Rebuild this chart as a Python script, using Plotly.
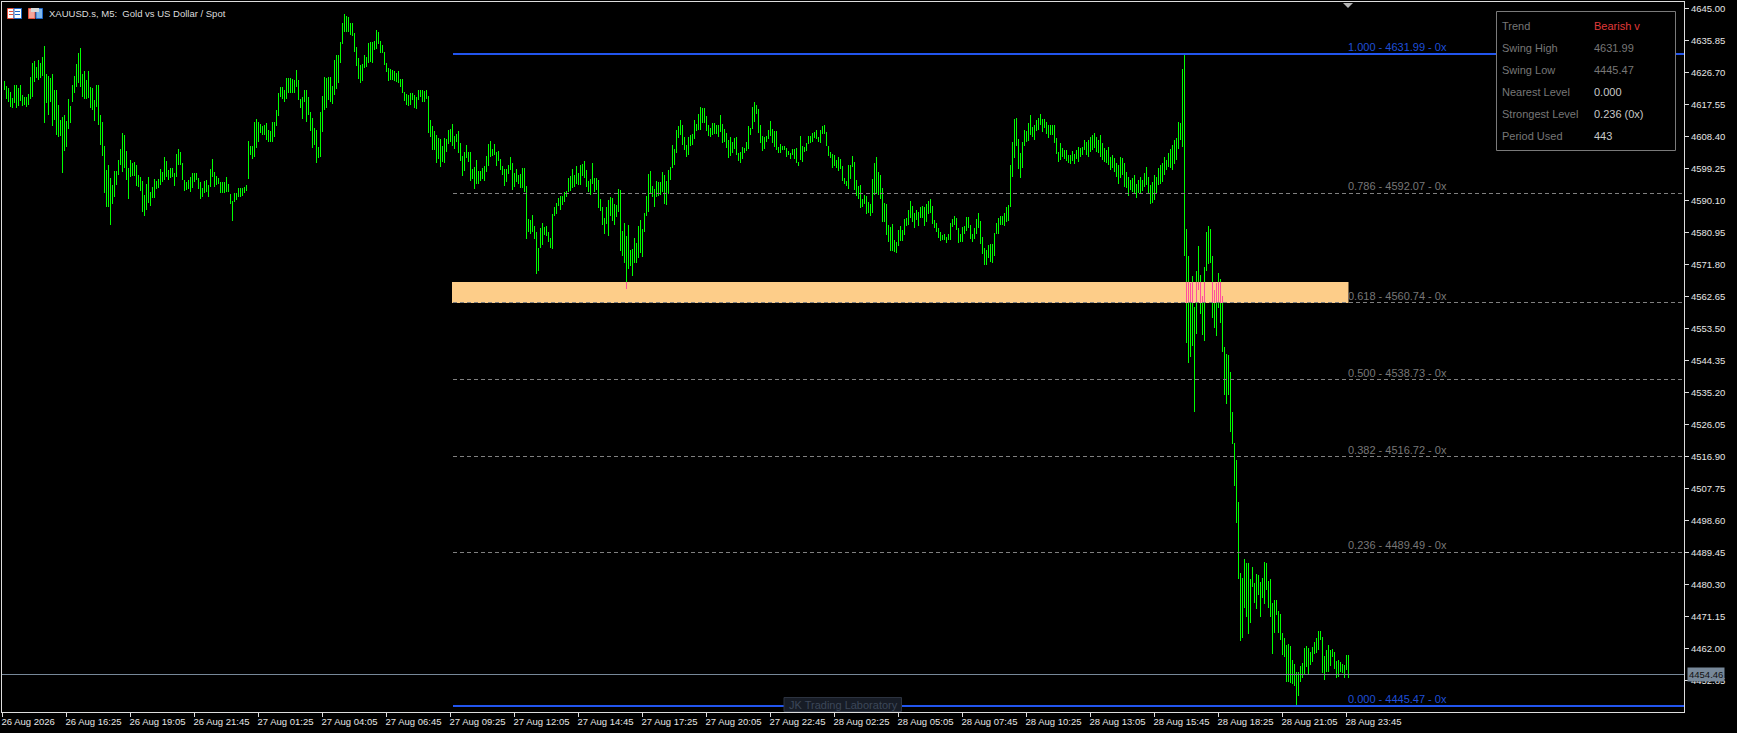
import plotly.graph_objects as go

# ---- chart values ----
high_a = [4624.2,4622.8,4622.1,4621.0,4619.4,4623.1,4623.1,4622.1,4623.1,4620.2,
4619.5,4619.5,4620.5,4625.3,4629.3,4629.9,4628.3,4630.2,4629.3,4631.2,
4634.2,4626.2,4625.6,4625.0,4626.2,4621.6,4621.6,4617.3,4613.1,4614.0,
4614.5,4612.9,4619.1,4617.1,4623.1,4625.6,4629.1,4632.1,4633.6,4626.2,
4627.2,4624.5,4627.2,4622.4,4622.1,4618.8,4623.1,4623.1,4614.5,4612.6,
4605.6,4598.8,4600.2,4596.4,4594.5,4598.5,4598.5,4601.6,4604.8,4609.2,
4608.8,4604.3,4599.2,4601.6,4600.7,4601.1,4600.2,4597.3,4596.8,4595.6,
4591.6,4594.9,4596.8,4592.6,4594.0,4596.2,4595.6,4596.2,4599.0,4598.3,
4602.6,4601.3,4598.8,4599.2,4599.4,4597.8,4603.3,4604.8,4603.8,4600.7,
4595.9,4595.4,4595.9,4596.8,4597.8,4598.0,4597.8,4596.6,4595.4,4593.5,
4595.6,4595.9,4594.5,4599.0,4601.9,4598.3,4597.1,4596.4,4595.4,4595.4,
4595.4,4596.8,4594.9,4591.8,4590.0,4592.3,4592.3,4593.7,4593.5,4593.7,
4594.0,4594.5,4607.1,4605.6,4605.6,4612.6,4613.3,4612.4,4611.8,4611.4,
4611.6,4612.1,4610.2,4610.0,4612.6,4612.6,4615.9,4620.9,4622.4,4622.4,
4621.6,4625.0,4625.0,4625.0,4624.8,4624.5,4627.4,4624.5,4619.2,4619.7,
4621.6,4621.6,4619.5,4615.4,4613.5,4610.7,4610.2,4605.4,4615.4,4619.9,
4625.3,4625.0,4625.3,4625.4,4622.8,4630.2,4631.6,4631.6,4635.5,4640.9,
4643.4,4642.9,4642.6,4640.7,4640.9,4638.0,4634.0,4630.7,4628.8,4629.0,
4631.6,4631.2,4635.2,4635.3,4635.3,4635.6,4638.8,4638.1,4635.7,4634.5,
4632.6,4629.5,4627.8,4627.6,4627.4,4627.2,4626.6,4627.2,4624.7,4624.7,
4621.0,4620.5,4620.2,4620.9,4620.7,4620.2,4619.7,4621.6]
low_a = [4621.6,4619.0,4618.3,4616.9,4616.6,4617.8,4616.6,4617.1,4618.5,4617.1,
4617.3,4616.9,4617.3,4619.0,4619.7,4624.0,4625.0,4624.5,4625.2,4625.6,
4612.3,4618.0,4614.5,4618.3,4611.2,4613.1,4608.8,4608.3,4608.5,4598.0,
4604.3,4605.4,4610.4,4612.3,4618.3,4620.7,4622.6,4623.5,4622.6,4619.7,
4619.2,4619.2,4619.4,4616.4,4615.9,4612.9,4616.9,4611.6,4605.9,4602.9,
4592.3,4588.3,4588.1,4583.0,4589.0,4591.1,4594.5,4597.3,4600.2,4598.3,
4599.2,4595.9,4590.4,4596.8,4597.0,4597.0,4594.2,4594.0,4592.8,4586.8,
4585.6,4587.3,4589.2,4588.5,4590.7,4590.7,4593.2,4593.5,4594.5,4595.4,
4595.9,4596.8,4595.9,4596.4,4596.8,4594.2,4596.8,4600.2,4600.2,4595.9,
4592.7,4593.0,4593.3,4592.6,4593.5,4595.4,4595.9,4593.2,4590.4,4591.1,
4592.1,4592.6,4591.1,4594.0,4596.8,4594.0,4594.5,4594.9,4592.3,4592.3,
4592.3,4592.6,4592.6,4588.9,4584.2,4589.5,4590.2,4591.1,4591.1,4591.3,
4592.3,4592.7,4596.2,4603.0,4601.9,4602.4,4605.0,4606.9,4609.2,4608.8,
4608.8,4607.3,4606.9,4606.9,4606.9,4608.3,4611.2,4614.2,4619.7,4619.2,
4618.3,4619.2,4620.7,4620.9,4620.7,4620.7,4622.6,4618.8,4616.4,4613.3,
4618.3,4612.6,4614.5,4609.9,4605.1,4605.9,4600.7,4602.1,4602.6,4609.7,
4615.9,4616.4,4618.8,4618.3,4617.6,4620.2,4621.8,4623.7,4629.3,4634.8,
4638.3,4638.3,4638.1,4637.4,4637.1,4632.6,4628.5,4624.7,4623.5,4624.2,
4627.8,4628.3,4629.3,4629.7,4629.4,4633.1,4633.3,4634.8,4632.1,4632.3,
4628.8,4626.9,4624.2,4624.5,4624.5,4624.2,4624.0,4623.5,4622.6,4620.7,
4618.5,4617.3,4617.1,4617.3,4618.8,4616.4,4616.2,4618.8]

high_b = [4621.6,4621.6,4621.3,4621.6,4619.9,4613.1,4611.3,4609.9,4608.8,4607.8,
4607.5,4605.6,4608.0,4607.5,4610.2,4610.4,4611.9,4608.5,4609.0,4609.9,
4606.4,4602.9,4604.0,4605.9,4603.9,4603.9,4599.0,4599.5,4601.6,4598.5,
4598.5,4599.2,4599.9,4602.9,4606.2,4607.0,4604.7,4606.2,4603.8,4604.2,
4601.9,4599.9,4599.0,4599.0,4600.2,4602.4,4600.7,4597.8,4599.0,4597.3,
4597.6,4599.3,4599.3,4594.2,4584.8,4584.5,4585.9,4582.8,4580.9,4576.4,
4582.1,4583.5,4582.6,4582.8,4580.9,4579.2,4586.2,4588.1,4589.2,4590.7,
4591.3,4591.3,4592.6,4592.7,4596.4,4597.0,4599.0,4597.3,4599.9,4597.8,
4600.2,4600.5,4601.3,4598.8,4595.7,4596.2,4600.7,4596.6,4596.6,4595.9,
4590.5,4588.1,4584.9,4588.3,4590.2,4591.1,4590.7,4589.0,4588.8,4593.3,
4593.0,4581.3,4583.5,4580.0,4583.0,4575.9,4576.2,4579.2,4578.0,4582.8,
4584.5,4581.9,4586.4,4591.3,4597.6,4598.5,4594.2,4593.3,4595.6,4595.4,
4595.2,4598.1,4597.3,4595.6,4598.8,4599.5,4605.9,4604.8,4610.2,4611.3,
4613.1,4611.6,4608.3,4605.9,4608.3,4608.8,4609.0,4613.1,4611.9,4614.8]
low_b = [4619.5,4618.3,4618.3,4619.0,4609.2,4608.3,4604.5,4604.5,4600.9,4601.9,
4599.7,4601.1,4600.7,4604.0,4606.2,4606.9,4605.7,4604.8,4606.9,4603.7,
4601.4,4597.1,4598.6,4602.1,4601.0,4595.7,4596.1,4593.4,4594.8,4594.8,
4595.7,4596.1,4595.7,4598.3,4599.9,4602.6,4602.8,4603.0,4600.0,4601.4,
4598.8,4597.3,4594.2,4595.4,4597.6,4598.8,4593.0,4594.0,4595.4,4594.9,
4593.5,4593.5,4592.6,4579.0,4581.1,4580.6,4581.1,4579.0,4569.0,4569.9,
4576.5,4577.3,4580.2,4580.0,4578.3,4576.5,4576.2,4585.6,4586.2,4588.5,
4587.3,4588.8,4589.7,4591.1,4592.6,4592.7,4593.7,4594.0,4594.9,4594.6,
4594.5,4597.1,4596.6,4593.8,4592.6,4591.6,4594.8,4592.6,4593.0,4587.8,
4587.1,4583.0,4580.5,4583.3,4580.0,4585.7,4584.2,4583.0,4585.4,4586.8,
4575.6,4574.3,4572.1,4564.7,4570.4,4571.4,4568.5,4572.1,4572.3,4573.7,
4574.9,4574.0,4581.1,4585.7,4586.8,4592.1,4590.9,4588.3,4591.1,4591.3,
4591.6,4592.6,4589.0,4588.8,4591.9,4595.9,4599.4,4600.2,4603.5,4608.0,
4608.8,4605.9,4604.5,4602.6,4603.0,4605.7,4605.9,4607.6,4610.0,4610.2]

high_c = [4616.7,4616.6,4616.4,4614.2,4611.6,4610.9,4612.3,4612.1,4611.6,4611.6,
4614.5,4611.9,4610.4,4609.2,4607.3,4608.3,4606.9,4608.0,4608.3,4603.5,
4603.8,4605.2,4605.1,4606.9,4611.3,4610.9,4616.9,4618.1,4617.3,4616.2,
4611.6,4608.5,4608.3,4608.5,4610.2,4612.8,4610.4,4609.9,4609.9,4605.4,
4606.2,4605.7,4605.6,4605.0,4604.2,4603.5,4604.8,4604.8,4605.1,4601.0,
4608.5,4605.6,4605.4,4606.4,4608.5,4608.5,4609.4,4609.5,4610.2,4608.3,
4610.2,4611.2,4611.6,4609.7,4605.6,4604.0,4603.3,4603.0,4601.6,4602.4,
4601.9,4599.9,4596.6,4595.6,4600.2,4600.2,4602.8,4601.0,4595.9,4594.2,
4594.5,4590.5,4591.5,4591.3,4589.6,4589.0,4596.2,4600.7,4602.4,4598.1,
4597.3,4593.5,4589.2,4589.0,4583.0]
low_c = [4610.2,4612.3,4612.1,4609.9,4608.6,4608.3,4608.8,4609.0,4609.0,4608.3,
4609.7,4606.6,4606.9,4605.1,4602.3,4602.9,4603.7,4604.8,4603.0,4601.4,
4600.9,4601.8,4603.7,4604.3,4604.8,4608.8,4610.5,4612.6,4614.8,4609.4,
4606.6,4604.3,4604.9,4606.9,4607.6,4608.6,4606.6,4605.4,4604.5,4603.7,
4603.7,4604.5,4604.5,4602.6,4603.0,4601.9,4603.0,4601.9,4600.9,4600.0,
4601.6,4601.1,4604.0,4604.3,4606.1,4606.6,4606.9,4608.0,4607.5,4606.9,
4606.6,4609.0,4609.0,4605.6,4602.9,4602.1,4599.4,4599.9,4599.4,4598.6,
4599.0,4595.6,4594.9,4594.2,4593.4,4596.1,4599.5,4593.0,4591.4,4590.5,
4588.0,4588.3,4589.0,4586.2,4586.4,4585.7,4586.6,4591.6,4592.3,4591.6,
4590.5,4584.0,4584.0,4580.2,4578.3]

high_d = [4582.6,4583.3,4578.7,4578.3,4581.6,4582.8,4581.6,4584.8,4585.0,4587.3,
4589.9,4588.5,4586.6,4587.3,4586.8,4588.3,4588.6,4588.3,4589.0,4589.9,
4590.5,4588.5,4584.5,4583.5,4582.1,4580.9,4580.3,4580.5,4579.5,4580.5,
4583.6,4584.8,4585.6,4584.9,4582.1,4580.5,4582.5,4582.8,4585.3,4585.3,
4583.0,4580.6,4582.2,4584.8,4586.5,4584.2,4579.6,4576.5,4575.9,4577.3,
4577.6,4577.6,4580.7,4583.6,4585.0,4585.6,4585.6,4586.5,4588.2,4588.8,
4600.2,4606.8,4613.3,4613.6,4607.6,4603.6,4606.8,4610.2,4609.9,4612.2,
4614.5,4611.0,4611.6,4613.1,4613.6,4614.8,4613.3,4613.3,4612.5,4611.6,
4611.6,4611.6,4611.6,4607.9,4603.9,4606.5,4605.0,4604.5,4604.5,4603.0,
4603.0,4604.2,4603.3,4604.5,4605.3,4605.0,4605.3,4607.3]
low_d = [4575.7,4575.6,4575.4,4575.1,4577.1,4578.6,4578.5,4580.2,4582.8,4583.0,
4584.9,4584.0,4582.3,4584.5,4582.8,4584.9,4584.9,4582.8,4584.0,4586.2,
4586.6,4583.3,4582.1,4581.1,4579.4,4578.5,4578.7,4578.7,4578.0,4578.7,
4578.7,4582.6,4583.0,4581.6,4578.0,4578.2,4578.2,4580.5,4581.4,4582.1,
4579.1,4578.2,4579.0,4580.5,4582.2,4577.6,4574.7,4571.6,4571.6,4573.6,
4572.4,4572.2,4574.2,4580.6,4580.6,4583.0,4583.0,4582.8,4583.9,4584.2,
4588.2,4596.8,4602.2,4605.6,4599.0,4596.5,4599.3,4605.6,4606.8,4607.0,
4608.8,4608.2,4607.3,4609.9,4610.2,4611.6,4609.6,4610.8,4609.0,4607.9,
4608.8,4608.8,4606.5,4603.3,4601.0,4601.6,4602.5,4601.9,4601.3,4600.8,
4600.5,4601.3,4600.5,4601.9,4601.0,4602.5,4603.0,4604.5]

high_e = [4606.9,4607.3,4608.3,4608.8,4609.2,4608.3,4607.3,4608.8,4606.4,4605.0,
4604.5,4605.4,4602.6,4603.0,4602.1,4600.7,4600.2,4602.6,4602.1,4600.7,
4598.3,4596.8,4595.9,4596.4,4597.3,4594.9,4595.9,4596.8,4595.9,4597.8,
4599.7,4596.8,4594.5,4595.4,4597.3,4596.8,4599.2,4600.2,4600.7,4602.6,
4601.6,4603.5]
low_e = [4603.0,4602.6,4604.0,4604.5,4605.0,4604.0,4603.5,4602.6,4601.6,4601.1,
4600.7,4600.2,4598.8,4599.2,4598.3,4596.8,4594.9,4596.4,4597.3,4594.0,
4593.5,4591.3,4593.0,4592.6,4591.9,4590.7,4592.2,4592.3,4592.7,4594.0,
4594.5,4592.2,4589.0,4589.3,4590.2,4592.2,4594.5,4594.9,4595.4,4597.3,
4598.8,4599.7]

high_f = [4604.8,4605.9,4607.3,4608.0,4612.5,4612.2,4627.6,4631.99,4581.9,4574.2,
4566.4,4568.4,4559.7,4569.9,4577.0,4568.7,4562.7,4571.0,4581.0,4582.7,
4581.9,4574.2,4564.4,4566.4,4569.3,4567.6,4562.7,4548.1,4546.1,4545.8,
4541.0,4529.6,4520.7,4515.8,4503.8]
low_f = [4599.4,4598.8,4600.5,4601.6,4604.8,4607.3,4605.2,4574.2,4549.4,4543.7,
4545.4,4548.5,4529.6,4552.0,4564.4,4557.7,4551.6,4550.0,4569.9,4571.9,
4572.2,4556.5,4553.7,4551.4,4559.4,4555.1,4546.8,4534.4,4531.9,4534.4,
4523.9,4520.5,4508.5,4497.7,4481.9]

high_g = [4483.6,4482.2,4487.5,4486.5,4486.3,4481.8,4485.3,4480.6,4483.1,4482.9,
4481.0,4482.2,4486.6,4486.3,4481.3,4481.8,4475.0,4475.8,4475.8,4472.6,
4471.8,4466.5,4465.0,4462.9,4463.2,4462.6,4458.6,4457.5,4455.3,4455.3,
4456.9,4457.9,4462.2,4462.6,4462.0,4461.0,4462.3,4463.9,4464.8,4467.0,
4467.0,4465.1,4459.9,4461.5,4462.9,4461.5,4461.7,4460.8,4458.4,4458.6,
4458.1,4457.5,4457.2,4460.0,4460.0]
low_g = [4464.2,4465.0,4473.4,4471.0,4466.1,4469.3,4479.6,4474.8,4473.2,4477.2,
4470.8,4476.3,4474.6,4478.7,4473.4,4470.8,4460.4,4466.3,4471.5,4466.3,
4464.4,4460.1,4459.6,4452.4,4452.4,4452.2,4451.8,4451.3,4445.47,4448.4,
4452.4,4453.4,4454.6,4456.7,4454.3,4457.2,4458.1,4460.4,4460.6,4461.5,
4464.4,4454.8,4452.9,4455.3,4455.3,4456.9,4459.6,4456.2,4453.4,4453.9,
4455.3,4454.8,4453.4,4455.8,4453.6]

high = high_a + high_b + high_c + high_d + high_e + high_f + high_g
low = low_a + low_b + low_c + low_d + low_e + low_f + low_g

fib_ratios = ["1.000", "0.786", "0.618", "0.500", "0.382", "0.236", "0.000"]
fib_prices = [4631.99, 4592.07, 4560.74, 4538.73, 4516.72, 4489.49, 4445.47]
zone_low_price = 4560.74
zone_high_price = 4566.7
last_price = 4454.46

time_labels = ["26 Aug 2026", "26 Aug 16:25", "26 Aug 19:05", "26 Aug 21:45",
               "27 Aug 01:25", "27 Aug 04:05", "27 Aug 06:45", "27 Aug 09:25",
               "27 Aug 12:05", "27 Aug 14:45", "27 Aug 17:25", "27 Aug 20:05",
               "27 Aug 22:45", "28 Aug 02:25", "28 Aug 05:05", "28 Aug 07:45",
               "28 Aug 10:25", "28 Aug 13:05", "28 Aug 15:45", "28 Aug 18:25",
               "28 Aug 21:05", "28 Aug 23:45"]
price_labels = ["4645.00", "4635.85", "4626.70", "4617.55", "4608.40", "4599.25",
                "4590.10", "4580.95", "4571.80", "4562.65", "4553.50", "4544.35",
                "4535.20", "4526.05", "4516.90", "4507.75", "4498.60", "4489.45",
                "4480.30", "4471.15", "4462.00", "4452.85"]

panel_names = ["Trend", "Swing High", "Swing Low", "Nearest Level", "Strongest Level", "Period Used"]
panel_values = ["Bearish v", "4631.99", "4445.47", "0.000", "0.236 (0x)", "443"]

# ---- layout constants (pixels of the 1737x733 page) ----
W, H = 1737, 733
L, R, T, B = 2, 1684, 2, 712
BAR_PX = 2
FIRST_BAR_PX = 4.5
Y_TOP, Y_BOTTOM = 4646.80, 4443.77
TICK_EVERY = 32
FIB_START_BAR = 224
LAST_BAR = len(high) - 1
GREEN, PINK = "#00ff00", "#ff4d9e"
ZONE = "#fdcd89"
BLUE, BLUE_TEXT = "#2255ee", "#1f4fd8"
GRAY, SLATE = "#808080", "#778899"
FONT = "Liberation Sans"

x_min = (L - FIRST_BAR_PX) / BAR_PX
x_max = (R - FIRST_BAR_PX) / BAR_PX


def px(x):
    return (x - L) / (R - L)


def py(y):
    return 1 - (y - T) / (B - T)


def rect(x0, y0, x1, y1, fill, line=None, width=1):
    return dict(type="rect", xref="paper", yref="paper",
                x0=px(x0), x1=px(x1), y0=py(y0), y1=py(y1),
                fillcolor=fill, line=dict(color=line or fill, width=width if line else 0),
                layer="above")


fig = go.Figure()

# bars
bx, by = [], []
pink_x, pink_y = [], []
for i, (h, l) in enumerate(zip(high, low)):
    bx += [i, i, None]
    by += [l, h, None]
    if h > zone_low_price and l < zone_high_price:
        pink_x += [i, i, None]
        pink_y += [max(l, zone_low_price), min(h, zone_high_price), None]

fig.add_trace(go.Scatter(x=bx, y=by, mode="lines", line=dict(color=GREEN, width=1), hoverinfo="skip"))
fig.add_trace(go.Scatter(x=pink_x, y=pink_y, mode="lines", line=dict(color=PINK, width=1), hoverinfo="skip"))

# fibonacci levels
annotations = []
for ratio, price in zip(fib_ratios, fib_prices):
    strong = ratio in ("1.000", "0.000")
    fig.add_trace(go.Scatter(
        x=[FIB_START_BAR, x_max], y=[price, price], mode="lines", hoverinfo="skip",
        line=dict(color=BLUE, width=2) if strong else dict(color=GRAY, width=1, dash="4px,3px")))
    annotations.append(dict(
        x=LAST_BAR, y=price, xref="x", yref="y", xanchor="left", yanchor="middle",
        xshift=-2.5, yshift=7, showarrow=False, text=f"{ratio} - {price:.2f} - 0x",
        font=dict(family=FONT, size=11, color=BLUE_TEXT if strong else "#777777")))

# current price line and label
fig.add_trace(go.Scatter(x=[x_min, x_max], y=[last_price, last_price], mode="lines",
                         line=dict(color=SLATE, width=1), hoverinfo="skip"))
annotations.append(dict(
    x=px(1687), y=last_price, xref="paper", yref="y", xanchor="left", yanchor="middle",
    showarrow=False, text=f"{last_price:.2f}", bgcolor=SLATE, borderpad=1,
    font=dict(family=FONT, size=9.5, color="#111111")))

shapes = [
    dict(type="rect", xref="x", yref="y", x0=FIB_START_BAR - 0.25, x1=LAST_BAR,
         y0=zone_low_price, y1=zone_high_price, fillcolor=ZONE, line=dict(width=0), layer="below"),
    # info panel
    rect(1496.5, 11.5, 1675.5, 150.5, "#000000", "#7a7a7a"),
    # watermark box
    rect(784, 697.5, 901.5, 711.5, "#171c26", "#2c3340"),
    # top marker
    dict(type="path", xref="paper", yref="paper",
         path=f"M {px(1343)} {py(3)} L {px(1353)} {py(3)} L {px(1348)} {py(8)} Z",
         fillcolor="#b4b4b4", line=dict(width=0), layer="above"),
    # window icons
    rect(7.5, 8.5, 14, 18.5, "#ffffff", "#e8503c"),
    rect(14, 8.5, 21.5, 18.5, "#ffffff", "#1f66c8"),
    rect(9, 11, 13, 12, "#e8503c"),
    rect(9, 14, 13, 15, "#e8503c"),
    rect(15, 11, 20, 12, "#1f66c8"),
    rect(15, 14, 20, 15, "#1f66c8"),
    rect(28.5, 8.5, 35, 18.5, "#f4a59a", "#e8503c"),
    rect(36, 8.5, 42.5, 18.5, "#7fb8ee", "#1f66c8"),
    rect(31, 8, 39, 12, "#d8d8d8"),
]

# info panel text
for n, (name, value) in enumerate(zip(panel_names, panel_values)):
    row_y = 26 + 22 * n
    annotations.append(dict(x=px(1500), y=py(row_y), xref="paper", yref="paper", xanchor="left",
                            yanchor="middle", showarrow=False, text=name,
                            font=dict(family=FONT, size=11, color="#777777")))
    color = "#e03a3a" if n == 0 else ("#777777" if n < 3 else "#c8c8c8")
    annotations.append(dict(x=px(1592), y=py(row_y), xref="paper", yref="paper", xanchor="left",
                            yanchor="middle", showarrow=False, text=value,
                            font=dict(family=FONT, size=11, color=color)))

annotations.append(dict(x=px(46.5), y=py(13.5), xref="paper", yref="paper", xanchor="left",
                        yanchor="middle", showarrow=False,
                        text="XAUUSD.s, M5:\u00a0 Gold vs US Dollar / Spot",
                        font=dict(family=FONT, size=9.5, color="#dddddd")))
annotations.append(dict(x=px(843), y=py(704.5), xref="paper", yref="paper", xanchor="center",
                        yanchor="middle", showarrow=False, text="JK Trading Laboratory",
                        font=dict(family=FONT, size=11, color="#3c4759")))

time_ticks = [-1 + TICK_EVERY * k for k in range(len(time_labels))]

fig.update_layout(
    width=W, height=H, autosize=False,
    margin=dict(l=L, r=W - R, t=T, b=H - B, pad=0, autoexpand=False),
    paper_bgcolor="#000000", plot_bgcolor="#000000",
    showlegend=False, hovermode=False,
    shapes=shapes, annotations=annotations,
    xaxis=dict(range=[x_min, x_max], tickmode="array", tickvals=time_ticks, ticktext=time_labels,
               ticks="outside", ticklen=4, tickwidth=1, tickcolor="#dddddd",
               ticklabelposition="outside right", tickangle=0, automargin=False,
               ticklabelshift=-2, ticklabelstandoff=1,
               tickfont=dict(family=FONT, size=9.5, color="#e6e6e6"),
               showgrid=False, zeroline=False, showline=True, mirror=True,
               linecolor="#dddddd", linewidth=1),
    yaxis=dict(range=[Y_BOTTOM, Y_TOP], side="right", tickmode="array",
               tickvals=[float(v) for v in price_labels], ticktext=price_labels,
               ticks="outside", ticklen=4, tickwidth=1, tickcolor="#dddddd", automargin=False,
               tickfont=dict(family=FONT, size=9.5, color="#e6e6e6"),
               showgrid=False, zeroline=False, showline=True, mirror=True,
               linecolor="#dddddd", linewidth=1),
)

crisp = ("document.body.style.margin='0';document.body.style.overflow='hidden';"
         "document.querySelectorAll('.scatterlayer .js-line')"
         ".forEach(function(e){e.style.shapeRendering='crispEdges';});")
fig.write_html("out.html", config={"displayModeBar": False}, post_script=crisp)
